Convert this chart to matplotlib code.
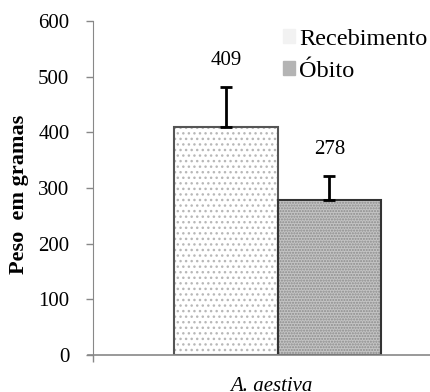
import matplotlib
matplotlib.use('Agg')
import matplotlib.pyplot as plt
from matplotlib.patches import Patch
import numpy as np

plt.rcParams['font.family'] = ['Liberation Serif', 'DejaVu Serif']
plt.rcParams['hatch.linewidth'] = 1.0

# data
series = ['Recebimento', 'Óbito']
means = [409, 278]
upper_sd = [72, 43]
species = 'A. aestiva'
yticks = [0, 100, 200, 300, 400, 500, 600]

face_colors = ['white', '#c4c4c4']
dot_colors = ['#b8b8b8', '#8c8c8c']
hatches = ['...', '......']
edge_colors = ['#555555', '#333333']
legend_colors = ['#f2f2f2', '#b4b4b4']

fig = plt.figure(figsize=(4.31, 3.92), dpi=100)
ax = fig.add_axes([93 / 431, 1 - 355 / 392, 1 - 93 / 431, (355 - 21) / 392])

x = np.arange(len(means))
# dotted fill, then the outline on top
ax.bar(x, means, width=1.0, color=face_colors, edgecolor=dot_colors,
       hatch=hatches, linewidth=0, zorder=2)
ax.bar(x, means, width=1.0, fill=False, edgecolor=edge_colors,
       linewidth=1.5, zorder=3)
ax.errorbar(x, means, yerr=[np.zeros(len(means)), upper_sd], fmt='none',
            ecolor='black', elinewidth=2, capsize=4, capthick=2, zorder=4)

for xi, m, s in zip(x, means, upper_sd):
    ax.text(xi, m + s + 48, str(m), ha='center', va='center', fontsize=15)

ax.set_ylim(0, 600)
ax.set_xlim(-1.283, 1.983)
ax.set_yticks(yticks)
ax.set_xticks([-1.283])
ax.set_xticklabels([''])
ax.tick_params(axis='both', direction='out', length=5, width=1,
               color='#888888', labelsize=15, labelcolor='black')
ax.tick_params(axis='y', pad=12)

for side in ['top', 'right', 'bottom']:
    ax.spines[side].set_visible(False)
ax.spines['left'].set_color('#888888')
ax.plot([-5 / 338, 1], [0, 0], transform=ax.transAxes, color='#888888',
        lw=1.2, clip_on=False, zorder=5)

ax.set_ylabel('Peso  em gramas', fontsize=16, fontweight='bold')
ax.yaxis.set_label_coords(-64 / 338, 0.48)
ax.text(0.44, -39, species, ha='center', va='top', fontsize=15,
        style='italic')

handles = [Patch(facecolor=c, edgecolor=c) for c in legend_colors]
ax.legend(handles, series, loc='upper left', frameon=False, fontsize=17.5,
          bbox_to_anchor=(283 / 431, 1 - 29 / 392),
          bbox_transform=fig.transFigure, borderpad=0, borderaxespad=0,
          handlelength=0.5, handleheight=0.5, handletextpad=0.15,
          labelspacing=0.45)

fig.savefig('out.png', dpi=100)
